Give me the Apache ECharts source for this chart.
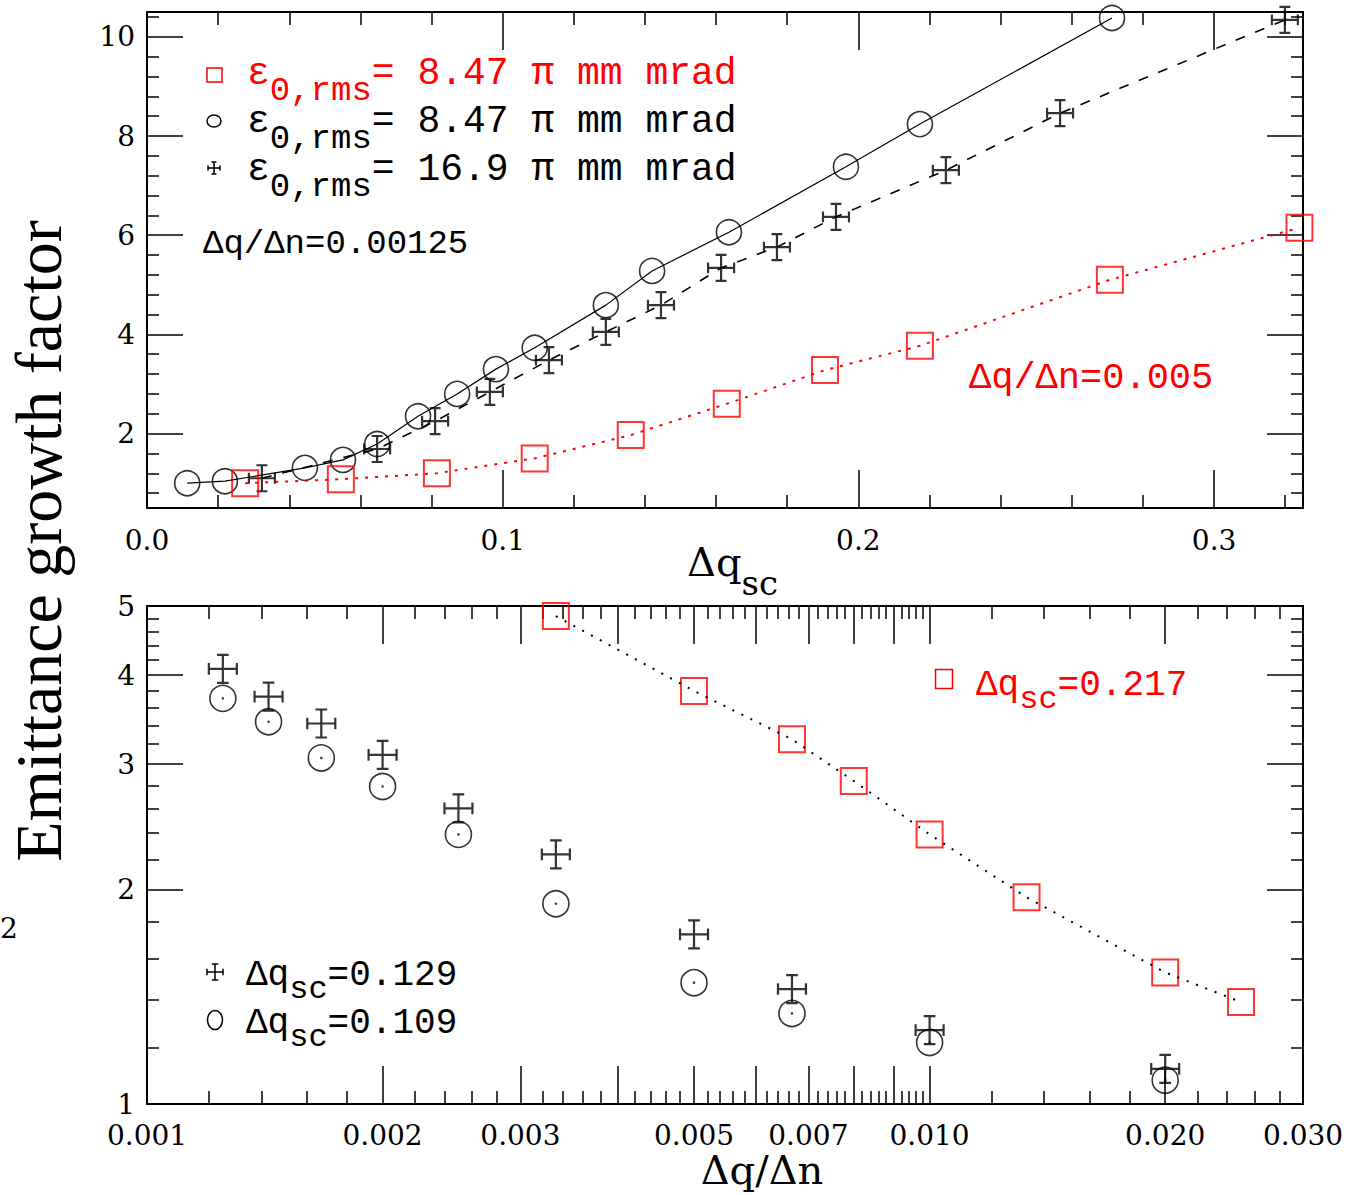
<!DOCTYPE html>
<html>
<head>
<meta charset="utf-8">
<title>Emittance growth factor</title>
<script src="https://cdn.jsdelivr.net/npm/echarts@6/dist/echarts.min.js"></script>
<style>
  html, body { margin: 0; padding: 0; background: #fff; }
  #main { width: 1371px; height: 1195px; }
</style>
</head>
<body>
<div id="main"></div>
<script>
// ---- top panel: growth factor vs dq_sc ----
// red squares, eps = 8.47, dq/dn = 0.005
var dqscRed = [0.0276, 0.0545, 0.0815, 0.109, 0.136, 0.163, 0.1906, 0.2173, 0.2707, 0.324];
var growthRed = [1.0, 1.08, 1.2, 1.5, 1.97, 2.6, 3.28, 3.77, 5.1, 6.15];
// circles, eps = 8.47, dq/dn = 0.00125
var dqscCirc = [0.0113, 0.0219, 0.0444, 0.0551, 0.0647, 0.0762, 0.0872, 0.0981, 0.109, 0.129, 0.142, 0.1636, 0.1965, 0.2173, 0.2713];
var growthCirc = [1.0, 1.04, 1.31, 1.47, 1.79, 2.35, 2.8, 3.3, 3.73, 4.59, 5.28, 6.06, 7.38, 8.24, 10.38];
// crosses, eps = 16.9, dq/dn = 0.00125
var dqscCross = [0.0323, 0.0647, 0.081, 0.0964, 0.113, 0.129, 0.1445, 0.1614, 0.1771, 0.1937, 0.2246, 0.2567, 0.3199];
var growthCross = [1.1, 1.69, 2.25, 2.84, 3.48, 4.05, 4.59, 5.34, 5.76, 6.37, 7.31, 8.46, 10.34];

// ---- bottom panel: growth factor vs dq/dn (log-log) ----
var dqdnRed = [0.00333, 0.005, 0.00667, 0.008, 0.01, 0.0133, 0.02, 0.025];
var growthRedB = [4.84, 3.8, 3.25, 2.84, 2.39, 1.95, 1.53, 1.39];   // dq_sc = 0.217
var dqdnB = [0.00125, 0.00143, 0.00167, 0.002, 0.0025, 0.00333, 0.005, 0.00667, 0.01, 0.02];
var growthCrossB = [4.08, 3.73, 3.42, 3.09, 2.6, 2.24, 1.73, 1.45, 1.27, 1.12]; // dq_sc = 0.129
var growthCircB = [3.71, 3.44, 3.06, 2.79, 2.39, 1.91, 1.48, 1.34, 1.22, 1.08]; // dq_sc = 0.109

// ---- ticks ----
var topXLabels = [0, 0.1, 0.2, 0.3];
var topXMajor = [0.1, 0.2, 0.3];
var topYLabels = [2, 4, 6, 8, 10];
var botXLabels = [0.001, 0.002, 0.003, 0.005, 0.007, 0.01, 0.02, 0.03];
var botXMajor = [0.002, 0.003, 0.004, 0.005, 0.006, 0.007, 0.008, 0.009, 0.01, 0.02];
var botYLabels = [1, 2, 3, 4, 5];
var botYMajor = [2, 3, 4];

function steps(from, to, step, skip) {
    var out = [];
    for (var i = 0; from + i * step <= to + 1e-9; i++) {
        if (skip && i % skip === 0) continue;
        out.push(+(from + i * step).toFixed(6));
    }
    return out;
}
var topXMinor = steps(0, 0.325, 0.02, 5);
var topYMinor = steps(0, 10.5, 0.4, 5).filter(function (v) { return v > 0.5; });
var botXMinor = steps(0.001, 0.01, 0.0002, 5).concat(steps(0.01, 0.03, 0.002, 5));
var botYMinor = steps(1, 5, 0.2, 5);

var lg = function (v) { return Math.log10(v); };
var FS = 'DejaVu Serif';
var FM = 'Liberation Mono';
var RED = '#ff0000';

function pts(xs, ys) {
    return xs.map(function (x, i) { return [x, ys[i]]; });
}

function tickAxis(grid, pos, min, max, ticks, len, labels, fmt, margin) {
    var ax = {
        gridIndex: grid, type: 'value', position: pos, min: min, max: max,
        axisLine: { show: false, onZero: false },
        splitLine: { show: false },
        axisTick: { show: true, inside: true, length: len, customValues: ticks,
                    lineStyle: { color: '#000', width: 1.5 } },
        axisLabel: { show: false }
    };
    if (labels) {
        ax.axisLabel = { show: true, customValues: labels, formatter: fmt, margin: margin,
                         color: '#000', fontFamily: FS, fontSize: 28 };
    }
    return ax;
}

var XMAJ = 38, XMIN = 13, YMAJ = 36, YMIN = 12;
var fmt1 = function (v) { return v.toFixed(1); };
var fmtInt = function (v) { return String(v); };
var fmtLogX = function (v) { return Math.pow(10, v).toFixed(3); };
var fmtLogY = function (v) { return String(Math.round(Math.pow(10, v))); };

var xAxes = [
    { gridIndex: 0, type: 'value', min: 0, max: 0.325, show: false },
    { gridIndex: 1, type: 'log', logBase: 10, min: 0.001, max: 0.03, show: false },
    tickAxis(0, 'bottom', 0, 0.325, topXMajor, XMAJ, topXLabels, fmt1, 18),
    tickAxis(0, 'bottom', 0, 0.325, topXMinor, XMIN),
    tickAxis(0, 'top', 0, 0.325, topXMajor, XMAJ),
    tickAxis(0, 'top', 0, 0.325, topXMinor, XMIN),
    tickAxis(1, 'bottom', lg(0.001), lg(0.03), botXMajor.map(lg), XMAJ, botXLabels.map(lg), fmtLogX, 17),
    tickAxis(1, 'bottom', lg(0.001), lg(0.03), botXMinor.map(lg), XMIN),
    tickAxis(1, 'top', lg(0.001), lg(0.03), botXMajor.map(lg), XMAJ),
    tickAxis(1, 'top', lg(0.001), lg(0.03), botXMinor.map(lg), XMIN)
];
var yAxes = [
    { gridIndex: 0, type: 'value', min: 0.5, max: 10.5, show: false },
    { gridIndex: 1, type: 'log', logBase: 10, min: 1, max: 5, show: false },
    tickAxis(0, 'left', 0.5, 10.5, topYLabels, YMAJ, topYLabels, fmtInt, 12),
    tickAxis(0, 'left', 0.5, 10.5, topYMinor, YMIN),
    tickAxis(0, 'right', 0.5, 10.5, topYLabels, YMAJ),
    tickAxis(0, 'right', 0.5, 10.5, topYMinor, YMIN),
    tickAxis(1, 'left', 0, lg(5), botYMajor.map(lg), YMAJ, botYLabels.map(lg), fmtLogY, 12),
    tickAxis(1, 'left', 0, lg(5), botYMinor.map(lg), YMIN),
    tickAxis(1, 'right', 0, lg(5), botYMajor.map(lg), YMAJ),
    tickAxis(1, 'right', 0, lg(5), botYMinor.map(lg), YMIN)
];

var crossPath = 'path://M12,0L12,24M0,12L24,12M7,0L17,0M7,24L17,24M0,7L0,17M24,7L24,17';
var hollow = function (c, w) { return { color: 'transparent', borderColor: c, borderWidth: w }; };

var series = [
    // top panel lines
    { type: 'line', xAxisIndex: 0, yAxisIndex: 0, data: pts(dqscCirc, growthCirc), symbol: 'none',
      lineStyle: { color: '#000', width: 1.2 } },
    { type: 'line', xAxisIndex: 0, yAxisIndex: 0, data: pts(dqscCross, growthCross), symbol: 'none',
      lineStyle: { color: '#000', width: 1.6, type: [10, 11] } },
    { type: 'line', xAxisIndex: 0, yAxisIndex: 0, data: pts(dqscRed, growthRed), symbol: 'none',
      lineStyle: { color: RED, width: 2, type: [3, 7] } },
    // top panel markers
    { type: 'scatter', xAxisIndex: 0, yAxisIndex: 0, data: pts(dqscCirc, growthCirc), symbol: 'circle',
      symbolSize: 25, itemStyle: hollow('#000', 1.6) },
    { type: 'scatter', xAxisIndex: 0, yAxisIndex: 0, data: pts(dqscCross, growthCross), symbol: crossPath,
      symbolSize: 26, itemStyle: hollow('#000', 2.2) },
    { type: 'scatter', xAxisIndex: 0, yAxisIndex: 0, data: pts(dqscRed, growthRed), symbol: 'rect',
      symbolSize: 26, itemStyle: hollow(RED, 2) },
    // bottom panel
    { type: 'line', xAxisIndex: 1, yAxisIndex: 1, data: pts(dqdnRed, growthRedB), symbol: 'none',
      lineStyle: { color: '#000', width: 2, type: [2, 8] } },
    { type: 'scatter', xAxisIndex: 1, yAxisIndex: 1, data: pts(dqdnRed, growthRedB), symbol: 'rect',
      symbolSize: 26, itemStyle: hollow(RED, 2) },
    { type: 'scatter', xAxisIndex: 1, yAxisIndex: 1, data: pts(dqdnB, growthCrossB), symbol: crossPath,
      symbolSize: 28, itemStyle: hollow('#000', 2.2) },
    { type: 'scatter', xAxisIndex: 1, yAxisIndex: 1, data: pts(dqdnB, growthCircB), symbol: 'circle',
      symbolSize: [26, 26], itemStyle: hollow('#000', 1.6) },
    { type: 'scatter', xAxisIndex: 1, yAxisIndex: 1, data: pts(dqdnB, growthCircB), symbol: 'circle',
      symbolSize: 2.5, itemStyle: { color: '#000' } }
];
series.forEach(function (s) { s.silent = true; s.animation = false; });

function crossIcon(cx, cy, r) {
    var c = r * 0.4;
    var segs = [[0, -r, 0, r], [-r, 0, r, 0], [-c, -r, c, -r], [-c, r, c, r], [-r, -c, -r, c], [r, -c, r, c]];
    return { type: 'group', x: cx, y: cy, children: segs.map(function (s) {
        return { type: 'line', shape: { x1: s[0], y1: s[1], x2: s[2], y2: s[3] },
                 style: { stroke: '#000', lineWidth: 1.5 } };
    }) };
}

function label(x, y, text, color, size, subSize, subPad) {
    return { type: 'text', x: x, y: y, style: {
        text: text, fill: color, align: 'left', verticalAlign: 'middle',
        rich: {
            a: { fontFamily: FM, fontSize: size, fill: color },
            s: { fontFamily: FM, fontSize: subSize || size, fill: color, padding: [subPad || 0, 0, 0, 0] }
        }
    } };
}

var graphics = [
    // y title spanning both panels
    { type: 'text', x: 38, y: 541, rotation: Math.PI / 2, style: {
        text: 'Emittance growth factor', fill: '#000', align: 'center', verticalAlign: 'middle',
        font: '66px "Liberation Serif"' } },
    // x titles
    { type: 'text', x: 687, y: 562, style: {
        text: '{a|Δq}{s|sc}', align: 'left', verticalAlign: 'middle',
        rich: { a: { fontFamily: FS, fontSize: 40, fill: '#000' },
                s: { fontFamily: FS, fontSize: 34, fill: '#000', padding: [42, 0, 0, 0] } } } },
    { type: 'text', x: 762, y: 1170, style: {
        text: 'Δq/Δn', align: 'center', verticalAlign: 'middle', fill: '#000',
        font: '40px "DejaVu Serif"', lineHeight: 32 } },
    // stray label fragment at the left edge
    { type: 'text', x: 0, y: 928, style: { text: '2', fill: '#000', align: 'left',
        verticalAlign: 'middle', font: '28px "DejaVu Serif"' } },

    // top legend
    { type: 'rect', shape: { x: 207, y: 68, width: 15, height: 14 }, style: { fill: 'none', stroke: RED, lineWidth: 1.5 } },
    { type: 'ellipse', shape: { cx: 214, cy: 121, rx: 7, ry: 6 }, style: { fill: 'none', stroke: '#000', lineWidth: 1.5 } },
    crossIcon(214, 168, 6),
    label(247, 73, '{a|ε}{s|0,rms}{a|= 8.47 π mm mrad}', RED, 38, 34, 36),
    label(247, 121, '{a|ε}{s|0,rms}{a|= 8.47 π mm mrad}', '#000', 38, 34, 36),
    label(247, 169, '{a|ε}{s|0,rms}{a|= 16.9 π mm mrad}', '#000', 38, 34, 36),
    label(203, 244, '{a|Δq/Δn=0.00125}', '#000', 34),
    label(969, 378, '{a|Δq/Δn=0.005}', RED, 37),

    // bottom legends
    { type: 'rect', shape: { x: 935.5, y: 669.5, width: 17, height: 19 }, style: { fill: 'none', stroke: RED, lineWidth: 1.5 } },
    label(976, 685, '{a|Δq}{s|sc}{a|=0.217}', RED, 36, 32, 28),
    crossIcon(215, 972, 8),
    label(246, 975, '{a|Δq}{s|sc}{a|=0.129}', '#000', 36, 32, 28),
    { type: 'ellipse', shape: { cx: 215, cy: 1020, rx: 7.5, ry: 9.5 }, style: { fill: 'none', stroke: '#000', lineWidth: 1.5 } },
    label(246, 1023, '{a|Δq}{s|sc}{a|=0.109}', '#000', 36, 32, 28)
];

var chart = echarts.init(document.getElementById('main'), null, { renderer: 'svg' });
chart.setOption({
    animation: false,
    backgroundColor: '#fff',
    grid: [
        { left: 147, top: 12, width: 1156, height: 496, show: true, borderColor: '#000', borderWidth: 2,
          backgroundColor: 'transparent', outerBoundsMode: 'none' },
        { left: 147, top: 606, width: 1156, height: 498, show: true, borderColor: '#000', borderWidth: 2,
          backgroundColor: 'transparent', outerBoundsMode: 'none' }
    ],
    xAxis: xAxes,
    yAxis: yAxes,
    series: series,
    graphic: graphics
});
</script>
</body>
</html>
